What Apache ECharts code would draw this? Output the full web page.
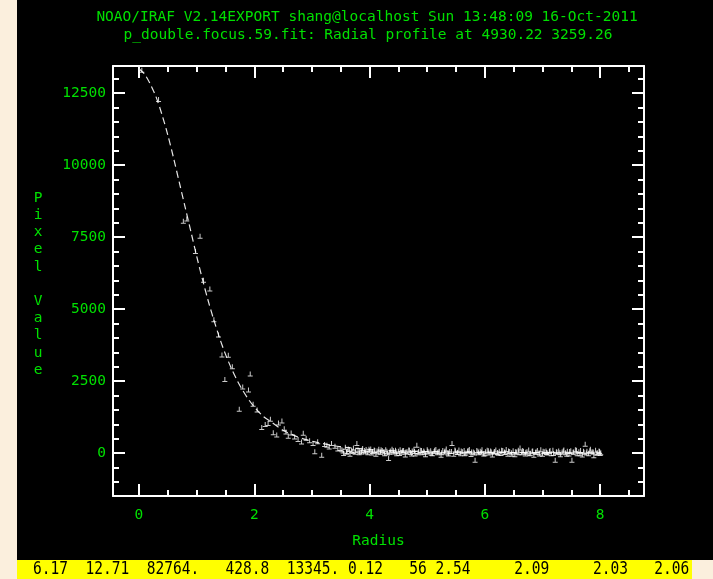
<!DOCTYPE html>
<html>
<head>
<meta charset="utf-8">
<title>Radial profile</title>
<script src="https://cdn.jsdelivr.net/npm/echarts@6/dist/echarts.min.js"></script>
<style>
  html, body { margin: 0; padding: 0; background: #fbefdd; }
  #chart { width: 713px; height: 579px; }
</style>
</head>
<body>
<div id="chart"></div>
<script>
// ---- text ----
const titleLine1 = 'NOAO/IRAF V2.14EXPORT shang@localhost Sun 13:48:09 16-Oct-2011';
const titleLine2 = 'p_double.focus.59.fit: Radial profile at 4930.22 3259.26';
const xAxisName = 'Radius';
const yAxisName = 'Pixel Value';
const statusLine = '6.17  12.71  82764.   428.8  13345. 0.12   56 2.54     2.09     2.03   2.06';

// ---- axis ranges and ticks ----
const xRange = [-0.45, 8.76];
const yRange = [-1485, 13440];
const xMajorTicks = [0, 2, 4, 6, 8];
const xMinorTicks = [0.5, 1, 1.5, 2.5, 3, 3.5, 4.5, 5, 5.5, 6.5, 7, 7.5, 8.5];
const yMajorTicks = [0, 2500, 5000, 7500, 10000, 12500];
const yMinorTicks = [-1000, -500, 500, 1000, 1500, 2000, 3000, 3500, 4000, 4500,
  5500, 6000, 6500, 7000, 8000, 8500, 9000, 9500, 10500, 11000, 11500, 12000, 13000];

// ---- fitted profile (radius, value) ----
const fitRadius = [0.00, 0.10, 0.20, 0.30, 0.40, 0.50, 0.60, 0.70, 0.80, 0.90,
  1.00, 1.10, 1.20, 1.30, 1.40, 1.50, 1.60, 1.70, 1.80, 1.90,
  2.00, 2.15, 2.30, 2.50, 2.70, 2.90, 3.10, 3.35, 3.60, 3.90,
  4.25, 4.60, 5.00, 5.50, 6.00, 6.50, 7.00, 7.50, 8.00];
const fitValue = [13345, 13150, 12800, 12350, 11750, 11050, 10250, 9400, 8550, 7700,
  6850, 6050, 5300, 4620, 3990, 3440, 2960, 2540, 2180, 1870,
  1610, 1290, 1080, 800, 610, 470, 370, 270, 200, 145,
  100, 75, 55, 40, 30, 24, 19, 15, 12];

// ---- measured pixels (radius, value) ----
const pixelRadius = [
  0.05, 0.34, 0.77, 0.83, 0.98, 1.06, 1.12, 1.23, 1.30, 1.38,
  1.44, 1.49, 1.55, 1.62, 1.74, 1.80, 1.90, 1.93, 1.98, 2.05,
  2.13, 2.19, 2.24, 2.28, 2.33, 2.39, 2.42, 2.48, 2.52, 2.55,
  2.59, 2.64, 2.70, 2.76, 2.82, 2.85, 2.90, 2.96, 3.02, 3.05,
  3.10, 3.17, 3.22, 3.26, 3.30, 3.34, 3.40, 3.45, 3.49,
  3.52, 3.55, 3.58, 3.61, 3.63, 3.66, 3.69, 3.72, 3.75, 3.78,
  3.80, 3.83, 3.86, 3.88, 3.91, 3.94, 3.97, 4.00, 4.02, 4.05,
  4.08, 4.11, 4.13, 4.16, 4.19, 4.22, 4.25, 4.28, 4.31, 4.33,
  4.36, 4.39, 4.42, 4.45, 4.47, 4.50, 4.53, 4.56, 4.59, 4.62,
  4.65, 4.68, 4.71, 4.74, 4.77, 4.79, 4.82, 4.85, 4.88, 4.91,
  4.94, 4.97, 5.00, 5.03, 5.06, 5.09, 5.12, 5.15, 5.18, 5.21,
  5.24, 5.27, 5.30, 5.33, 5.36, 5.39, 5.43, 5.46, 5.49, 5.52,
  5.55, 5.58, 5.61, 5.64, 5.67, 5.70, 5.73, 5.76, 5.80, 5.83,
  5.86, 5.89, 5.92, 5.95, 5.98, 6.01, 6.04, 6.07, 6.10, 6.13,
  6.16, 6.19, 6.22, 6.25, 6.28, 6.31, 6.34, 6.37, 6.40, 6.43,
  6.46, 6.49, 6.52, 6.55, 6.58, 6.61, 6.64, 6.67, 6.70, 6.73,
  6.76, 6.79, 6.82, 6.85, 6.88, 6.91, 6.94, 6.97, 7.00, 7.03,
  7.06, 7.09, 7.12, 7.15, 7.18, 7.22, 7.25, 7.28, 7.31, 7.34,
  7.37, 7.40, 7.43, 7.46, 7.49, 7.51, 7.54, 7.57, 7.60, 7.63,
  7.66, 7.69, 7.72, 7.74, 7.77, 7.80, 7.83, 7.86, 7.89, 7.92,
  7.95, 7.98, 8.00,
  3.54, 3.60, 3.65, 3.71, 3.76, 3.82, 3.87, 3.93, 3.99, 4.04,
  4.09, 4.15, 4.20, 4.26, 4.30, 4.35, 4.41, 4.46, 4.52, 4.57,
  4.63, 4.69, 4.73, 4.78, 4.84, 4.90, 4.95, 5.01, 5.07, 5.13,
  5.19, 5.25, 5.31, 5.37, 5.42, 5.48, 5.53, 5.59, 5.65, 5.71,
  5.77, 5.82, 5.88, 5.94, 6.00, 6.06, 6.11, 6.17, 6.23, 6.29,
  6.35, 6.41, 6.47, 6.53, 6.59, 6.65, 6.71, 6.77, 6.83, 6.89,
  6.95, 7.01, 7.07, 7.13, 7.19, 7.24, 7.30, 7.36, 7.42, 7.47,
  7.53, 7.59, 7.65, 7.71, 7.76, 7.82, 7.88, 7.94, 7.99, 8.01];
const pixelValue = [
  13290, 12280, 8050, 8130, 7000, 7530, 6000, 5700, 4630, 4100,
  3410, 2560, 3400, 3000, 1530, 2300, 2190, 2750, 1700, 1500,
  890, 1000, 1030, 1180, 710, 630, 1050, 1120, 850, 740,
  590, 700, 560, 480, 390, 690, 520, 430, 340, 50,
  400, -70, 300, 280, 220, 340, 240, 150, 160,
  120, -10, 210, 60, 150, -35, 90, 180, 30, 340,
  110, 70, 45, 160, 95, 130, 20, 85, 150, 60,
  110, -40, 75, 140, 30, 95, 55, 120, 10, -185,
  80, 140, 45, 100, -20, 65, 120, 35, 90, -60,
  50, 110, 25, 80, 140, -30, 280, 60, 100, 15,
  75, -50, 120, 40, 85, -15, 60, 130, 20, 70,
  -70, 95, 45, 150, 10, 60, 337, -40, 80, 25,
  110, -20, 55, 95, 5, 70, 130, -45, 40, -244,
  90, 20, 65, 120, -30, 50, 100, 10, 75, -60,
  40, 115, 25, 70, -10, 90, 45, 130, -35, 60,
  15, 85, -55, 40, 100, 185, 20, 70, -25, 55,
  110, 0, 65, -70, 35, 90, 20, 120, -40, 50,
  80, 5, 60, -20, 100, -244, 30, 75, -50, 45,
  110, 15, 65, -30, 85, -244, 40, 120, -15, 55,
  95, -60, 30, 313, 70, -20, 140, 50, -90, 100,
  20, 75, -10,
  80, 30, 130, 60, 100, 20, 110, 55, 140, 10,
  90, 45, 120, -20, 70, 30, 95, 50, -10, 85,
  40, 105, -25, 60, 20, 90, 35, 70, -5, 100,
  50, 15, 80, -30, 60, 110, 30, 75, -15, 95,
  45, 10, 70, 35, -20, 85, 40, 60, -5, 100,
  25, 75, -40, 55, 20, 90, 35, -15, 80, 45,
  -30, 70, 25, 95, -10, 55, 15, 80, -35, 60,
  30, 100, -20, 65, 10, 85, 40, -5, 60, 20];

// ---- styling ----
const GREEN = '#00e000';
const WHITE = '#ffffff';
const MONO = '"DejaVu Sans Mono", monospace';
const FONT_SIZE = 14.5;

const zip = (a, b) => a.map((v, i) => [v, b[i]]);

function xAxisDef(position, ticks, tickLen, isMain) {
  return {
    type: 'value', position, min: xRange[0], max: xRange[1],
    axisLine: { show: isMain, onZero: false, lineStyle: { color: WHITE, width: 2 } },
    axisTick: { show: true, inside: true, length: tickLen, customValues: ticks,
      lineStyle: { color: WHITE, width: 2 } },
    axisLabel: (isMain && position === 'bottom') ? {
      show: true, customValues: xMajorTicks, color: GREEN, fontFamily: MONO,
      fontSize: FONT_SIZE, margin: 12, formatter: v => String(v)
    } : { show: false },
    splitLine: { show: false },
    name: (isMain && position === 'bottom') ? xAxisName : '',
    nameLocation: 'middle', nameGap: 38,
    nameTextStyle: { color: GREEN, fontFamily: MONO, fontSize: FONT_SIZE }
  };
}

function yAxisDef(position, ticks, tickLen, isMain) {
  return {
    type: 'value', position, min: yRange[0], max: yRange[1],
    axisLine: { show: isMain, onZero: false, lineStyle: { color: WHITE, width: 2 } },
    axisTick: { show: true, inside: true, length: tickLen, customValues: ticks,
      lineStyle: { color: WHITE, width: 2 } },
    axisLabel: (isMain && position === 'left') ? {
      show: true, customValues: yMajorTicks, color: GREEN, fontFamily: MONO,
      fontSize: FONT_SIZE, margin: 7, formatter: v => String(v)
    } : { show: false },
    splitLine: { show: false }
  };
}

const chart = echarts.init(document.getElementById('chart'), null, { renderer: 'canvas' });

chart.setOption({
  backgroundColor: '#fbefdd',
  animation: false,
  grid: { left: 113, top: 66, right: 69, bottom: 83 },
  xAxis: [
    xAxisDef('bottom', xMajorTicks, 12, true),
    xAxisDef('bottom', xMinorTicks, 6, false),
    xAxisDef('top', xMajorTicks, 12, true),
    xAxisDef('top', xMinorTicks, 6, false)
  ],
  yAxis: [
    yAxisDef('left', yMajorTicks, 12, true),
    yAxisDef('left', yMinorTicks, 6, false),
    yAxisDef('right', yMajorTicks, 12, true),
    yAxisDef('right', yMinorTicks, 6, false)
  ],
  graphic: [
    { type: 'rect', z: -100, silent: true,
      shape: { x: 17, y: 0, width: 696, height: 560 }, style: { fill: '#000000' } },
    { type: 'rect', z: -100, silent: true,
      shape: { x: 17, y: 560, width: 675, height: 19 }, style: { fill: '#ffff00' } },
    { type: 'text', silent: true, x: 367, y: 17,
      style: { text: titleLine1, fill: GREEN, font: `${FONT_SIZE}px ${MONO}`,
        textAlign: 'center', textVerticalAlign: 'middle' } },
    { type: 'text', silent: true, x: 368, y: 35,
      style: { text: titleLine2, fill: GREEN, font: `${FONT_SIZE}px ${MONO}`,
        textAlign: 'center', textVerticalAlign: 'middle' } },
    { type: 'text', silent: true, x: 38, y: 284,
      style: { text: yAxisName.split('').join('\n'), fill: GREEN,
        font: `${FONT_SIZE}px ${MONO}`, lineHeight: 17.2,
        textAlign: 'center', textVerticalAlign: 'middle' } },
    { type: 'text', silent: true, x: 33, y: 570, scaleX: 0.855,
      style: { text: statusLine, fill: '#000000', font: `17px ${MONO}`,
        textAlign: 'left', textVerticalAlign: 'middle' } }
  ],
  series: [
    {
      type: 'line', name: 'fit', xAxisIndex: 0, yAxisIndex: 0,
      data: zip(fitRadius, fitValue), smooth: 0.3, showSymbol: false,
      lineStyle: { color: '#e6e6e6', width: 1.2, type: [7, 4] }, z: 3
    },
    {
      type: 'scatter', name: 'pixels', xAxisIndex: 0, yAxisIndex: 0,
      data: zip(pixelRadius, pixelValue),
      symbol: 'path://M0,4h5v1h-5zM2,0h1v4h-1z', symbolSize: [5, 5],
      itemStyle: { color: WHITE }, z: 4
    }
  ]
});
</script>
</body>
</html>
